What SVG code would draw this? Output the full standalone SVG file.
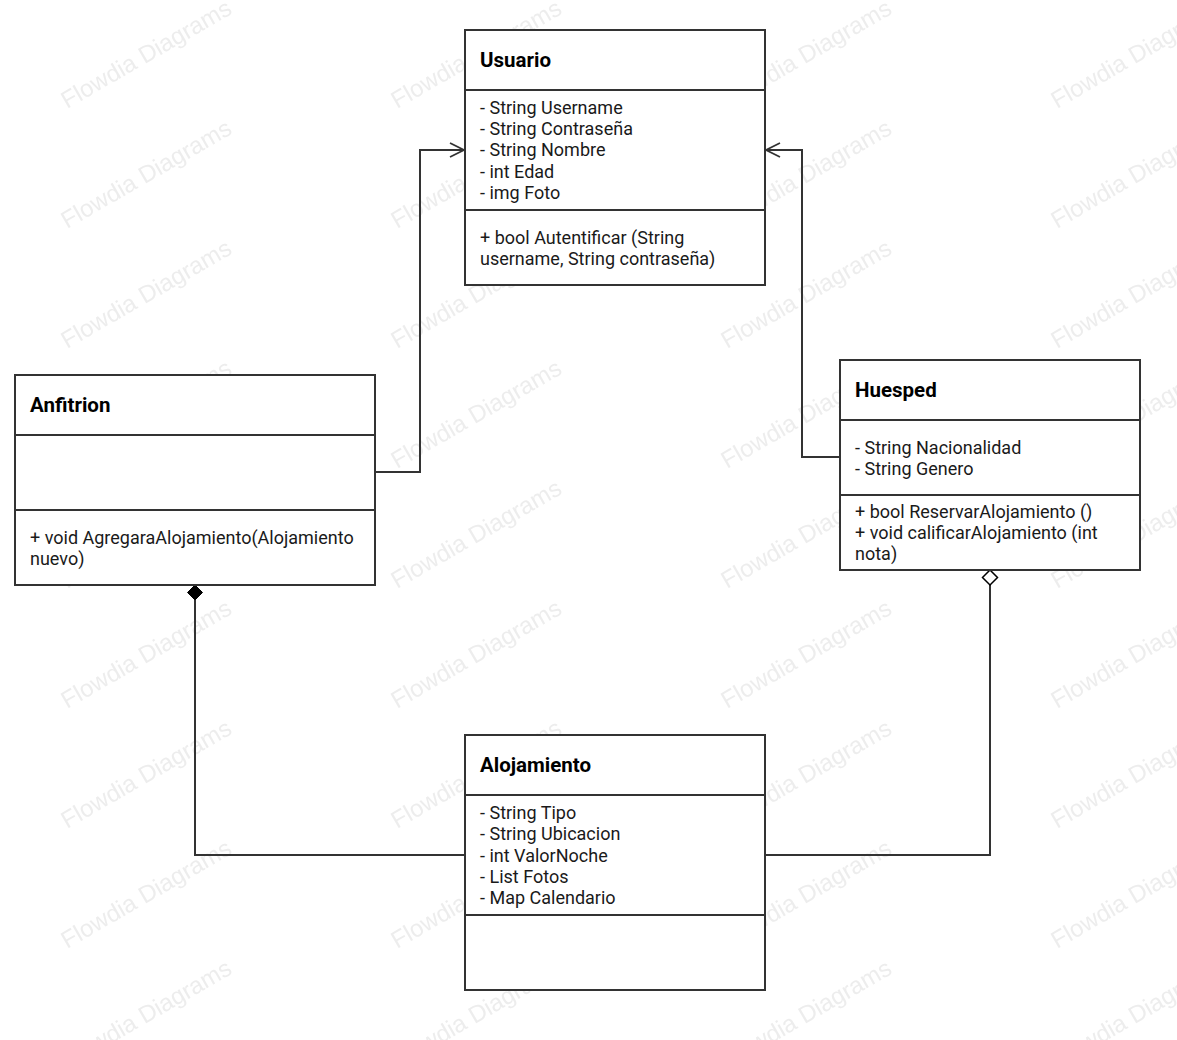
<svg xmlns="http://www.w3.org/2000/svg" width="1177" height="1040" viewBox="0 0 1177 1040">
<style>
.box{fill:#fff;stroke:#333;stroke-width:2}
.div{stroke:#333;stroke-width:2}
.title{font-family:Roboto,"Liberation Sans",sans-serif;font-size:20.5px;font-weight:bold;fill:#000}
.txt{font-family:Roboto,"Liberation Sans",sans-serif;font-size:18px;fill:#1a1a1a}
.wm{font-family:"Liberation Sans",Arial,sans-serif;font-size:24px;fill:#ededed}
.conn{fill:none;stroke:#333;stroke-width:2}
</style>
<defs>
<pattern id="wmp" patternUnits="userSpaceOnUse" x="0" y="0" width="330" height="120">
<text class="wm" transform="translate(67,109) rotate(-30)">Flowdia Diagrams</text>
</pattern>
<marker id="open" viewBox="0 0 16 16" refX="15" refY="8" markerWidth="16" markerHeight="16" markerUnits="userSpaceOnUse" orient="auto">
<path d="M1,1 L15,8 L1,15" fill="none" stroke="#333" stroke-width="1.8"/>
</marker>
<marker id="dfill" viewBox="0 0 18 18" refX="1" refY="9" markerWidth="18" markerHeight="18" markerUnits="userSpaceOnUse" orient="auto">
<path d="M1,9 L8.5,1.5 L16,9 L8.5,16.5 Z" fill="#000" stroke="#000" stroke-width="1"/>
</marker>
<marker id="dopen" viewBox="0 0 18 18" refX="1" refY="9" markerWidth="18" markerHeight="18" markerUnits="userSpaceOnUse" orient="auto">
<path d="M1,9 L8.5,1.5 L16,9 L8.5,16.5 Z" fill="#fff" stroke="#000" stroke-width="1.5"/>
</marker>
</defs>
<rect x="0" y="0" width="1177" height="1040" fill="#fff"/>
<rect x="0" y="0" width="1177" height="1040" fill="url(#wmp)"/>
<g id="connectors">
<path class="conn" d="M375,472 H420 V150 H464" marker-end="url(#open)"/>
<path class="conn" d="M840,457 H802 V150 H766" marker-end="url(#open)"/>
<path class="conn" d="M195,585 V855 H465" marker-start="url(#dfill)"/>
<path class="conn" d="M990,570 V855 H765" marker-start="url(#dopen)"/>
</g>
<g id="usuario">
<rect class="box" x="465" y="30" width="300" height="255"/>
<line class="div" x1="465" y1="90" x2="765" y2="90"/>
<line class="div" x1="465" y1="210" x2="765" y2="210"/>
<text class="title" x="480" y="67">Usuario</text>
<text class="txt" x="480" y="114">- String Username</text>
<text class="txt" x="480" y="135">- String Contraseña</text>
<text class="txt" x="480" y="156">- String Nombre</text>
<text class="txt" x="480" y="178">- int Edad</text>
<text class="txt" x="480" y="199">- img Foto</text>
<text class="txt" x="480" y="244">+ bool Autentificar (String</text>
<text class="txt" x="480" y="265">username, String contraseña)</text>
</g>
<g id="anfitrion">
<rect class="box" x="15" y="375" width="360" height="210"/>
<line class="div" x1="15" y1="435" x2="375" y2="435"/>
<line class="div" x1="15" y1="510" x2="375" y2="510"/>
<text class="title" x="30" y="412">Anfitrion</text>
<text class="txt" x="30" y="544">+ void AgregaraAlojamiento(Alojamiento</text>
<text class="txt" x="30" y="565">nuevo)</text>
</g>
<g id="huesped">
<rect class="box" x="840" y="360" width="300" height="210"/>
<line class="div" x1="840" y1="420" x2="1140" y2="420"/>
<line class="div" x1="840" y1="495" x2="1140" y2="495"/>
<text class="title" x="855" y="397">Huesped</text>
<text class="txt" x="855" y="454">- String Nacionalidad</text>
<text class="txt" x="855" y="475">- String Genero</text>
<text class="txt" x="855" y="518">+ bool ReservarAlojamiento ()</text>
<text class="txt" x="855" y="539">+ void calificarAlojamiento (int</text>
<text class="txt" x="855" y="560">nota)</text>
</g>
<g id="alojamiento">
<rect class="box" x="465" y="735" width="300" height="255"/>
<line class="div" x1="465" y1="795" x2="765" y2="795"/>
<line class="div" x1="465" y1="915" x2="765" y2="915"/>
<text class="title" x="480" y="772">Alojamiento</text>
<text class="txt" x="480" y="819">- String Tipo</text>
<text class="txt" x="480" y="840">- String Ubicacion</text>
<text class="txt" x="480" y="862">- int ValorNoche</text>
<text class="txt" x="480" y="883">- List Fotos</text>
<text class="txt" x="480" y="904">- Map Calendario</text>
</g>
</svg>
